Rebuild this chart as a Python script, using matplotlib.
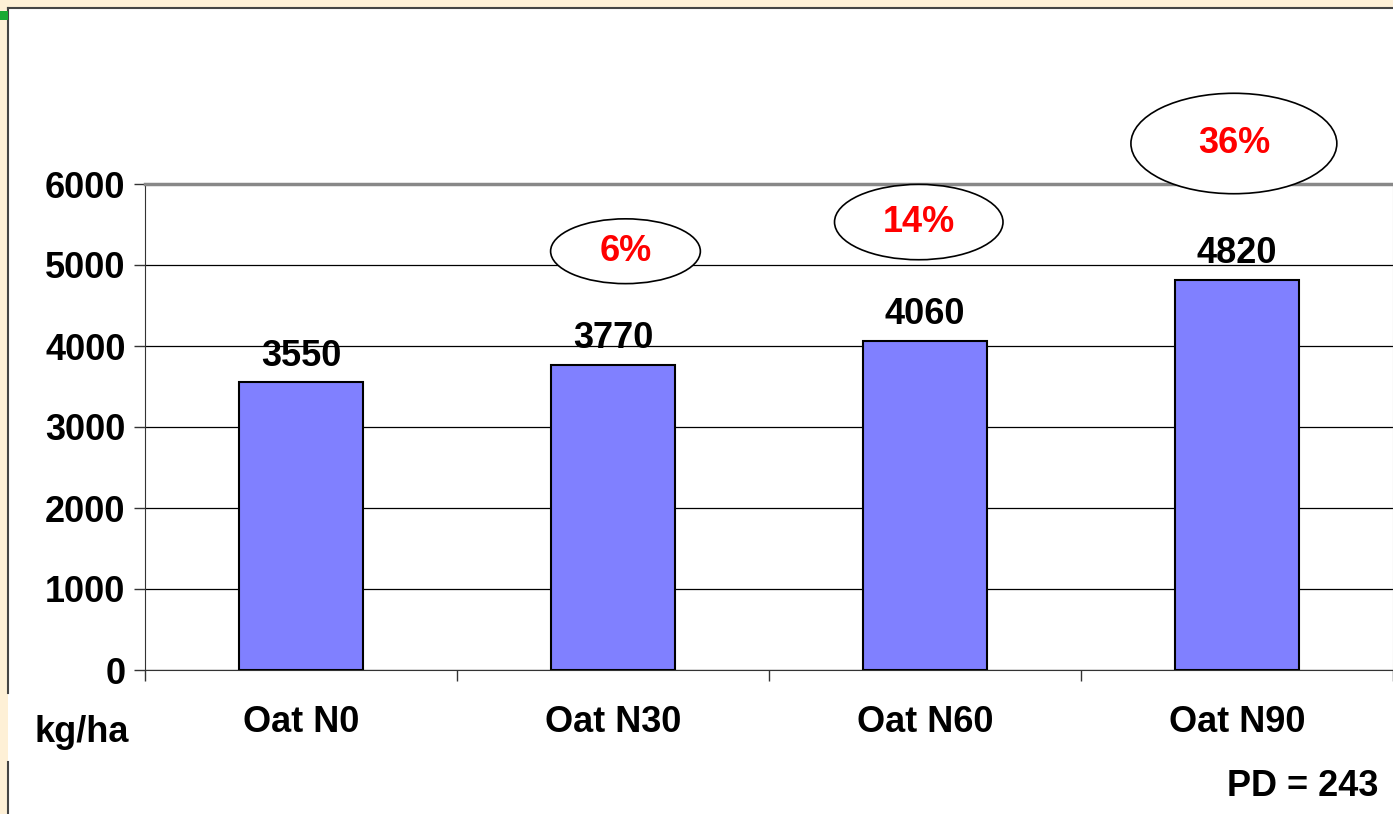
import matplotlib
matplotlib.use("Agg")
import matplotlib.pyplot as plt
from matplotlib.patches import Ellipse, Rectangle
from matplotlib.lines import Line2D

categories = ["Oat N0", "Oat N30", "Oat N60", "Oat N90"]
yields = [3550, 3770, 4060, 4820]
gains = ["", "6%", "14%", "36%"]
yticks = [0, 1000, 2000, 3000, 4000, 5000, 6000]

# bubble positions in data units (x, y, width, height)
bubbles = [None, (1.04, 5170, 0.48, 800), (1.98, 5530, 0.54, 930), (2.99, 6500, 0.66, 1240)]

W, H = 1393, 814
FS = 26
fig = plt.figure(figsize=(W / 100, H / 100), dpi=100)
fig.patch.set_facecolor("#fef0d6")
plt.rcParams['font.family'] = ['Liberation Sans', 'DejaVu Sans']

# white slide panel with border
fig.patches.append(Rectangle((8 / W, 0), 1, 1 - 8 / H, transform=fig.transFigure,
                             facecolor="white", edgecolor="none", zorder=-2))
fig.lines.append(Line2D([8 / W, 1], [1 - 8 / H, 1 - 8 / H], transform=fig.transFigure,
                        color="#444444", lw=1.5, zorder=-1))
fig.lines.append(Line2D([8 / W, 8 / W], [1 - 8 / H, 1 - 693 / H], transform=fig.transFigure,
                        color="#444444", lw=1.5, zorder=-1))
fig.lines.append(Line2D([8 / W, 8 / W], [1 - 762 / H, 0], transform=fig.transFigure,
                        color="#444444", lw=1.5, zorder=-1))
fig.patches.append(Rectangle((0, 1 - 20 / H), 8 / W, 9 / H, transform=fig.transFigure,
                             facecolor="#1aaa33", edgecolor="none", zorder=-1))

ax = fig.add_axes([145 / W, 1 - 670 / H, (1393 - 145) / W, (670 - 184) / H])
ax.set_facecolor("white")
x = list(range(len(categories)))
ax.bar(x, yields, width=0.4, color="#8080ff", edgecolor="black", linewidth=1.5, zorder=3)
ax.set_xlim(-0.5, len(categories) - 0.5)
ax.set_ylim(0, 6000)
ax.set_yticks(yticks)
ax.set_yticklabels([str(v) for v in yticks], fontsize=FS, fontweight="bold")
ax.yaxis.grid(True, color="black", linewidth=0.9, zorder=0)
ax.set_axisbelow(True)

ax.set_xticks([i - 0.5 for i in range(len(categories) + 1)])
ax.set_xticklabels([])
ax.tick_params(axis="x", direction="out", length=8, width=1, color="#333333")
ax.tick_params(axis="y", direction="out", length=8, width=1, color="#333333", pad=6)
for i, c in enumerate(categories):
    ax.text(i, -650, c, ha="center", va="center", fontsize=FS, fontweight="bold")

ax.spines["top"].set_color("#888888")
ax.spines["top"].set_linewidth(2.5)
ax.spines["right"].set_color("#aaaaaa")
ax.spines["left"].set_color("#333333")
ax.spines["bottom"].set_color("#333333")

for i, v in enumerate(yields):
    ax.text(i, v + 110, str(v), ha="center", va="bottom", fontsize=FS, fontweight="bold", zorder=4)

for b, g in zip(bubbles, gains):
    if b is None:
        continue
    bx, by, bw, bh = b
    e = Ellipse((bx, by), bw, bh, facecolor="white", edgecolor="black", linewidth=1.2,
                zorder=5, clip_on=False)
    ax.add_patch(e)
    ax.text(bx, by, g, ha="center", va="center", fontsize=FS, fontweight="bold",
            color="#ff0000", zorder=6, clip_on=False)

fig.text(82 / W, 1 - 732 / H, "kg/ha", ha="center", va="center", fontsize=FS, fontweight="bold")
fig.text(1378 / W, 1 - 786 / H, "PD = 243", ha="right", va="center", fontsize=FS, fontweight="bold")

fig.savefig("out.png", dpi=100, facecolor=fig.get_facecolor())
